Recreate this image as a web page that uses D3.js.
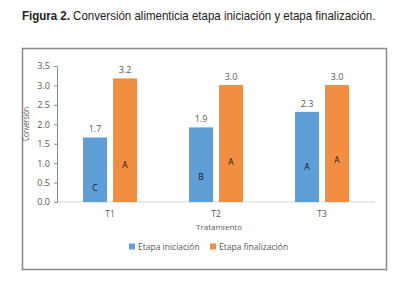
<!DOCTYPE html>
<html>
<head>
<meta charset="utf-8">
<script src="https://cdn.jsdelivr.net/npm/d3@7"></script>
<style>
  body { margin: 0; background: #fff; }
  text { font-family: "Open Sans", "DejaVu Sans", sans-serif; }
  .title { font-family: "Liberation Sans Narrow", "Arial Narrow", "Liberation Sans", sans-serif; font-size: 13px; fill: #222; }
</style>
</head>
<body>
<div id="chart"></div>
<script>
// chart data
const categories = ["T1", "T2", "T3"];
const seriesNames = ["Etapa iniciación", "Etapa finalización"];
const iniciacion = [1.66, 1.92, 2.32];
const finalizacion = [3.18, 3.01, 3.01];
const letrasIniciacion = ["C", "B", "A"];
const letrasFinalizacion = ["A", "A", "A"];
// where the letters sit, in conversion units
const letraPosIniciacion = [0.36, 0.64, 0.9];
const letraPosFinalizacion = [0.95, 1.03, 1.08];
const yTicks = [0, 0.5, 1, 1.5, 2, 2.5, 3, 3.5];

const colors = ["#5e9fd7", "#f28e42"];

const width = 409, height = 294;
const margin = {top: 66, right: 34, bottom: 92, left: 57};
const innerW = width - margin.left - margin.right;
const innerH = height - margin.top - margin.bottom;

const svg = d3.select("#chart").append("svg")
    .attr("width", width)
    .attr("height", height);

// title: no narrow font installed, so squeeze it horizontally
const title = svg.append("g")
    .attr("transform", "translate(22,20) scale(0.885,1)")
    .append("text")
    .attr("class", "title");
title.append("tspan").attr("font-weight", "bold").text("Figura 2.");
title.append("tspan").text(" Conversión alimenticia etapa iniciación y etapa finalización.");

// outer frame
svg.append("rect")
    .attr("x", 22.5).attr("y", 48.5)
    .attr("width", 364).attr("height", 221)
    .attr("fill", "none")
    .attr("stroke", "#8a8a8a")
    .attr("stroke-width", 1.5);

const chart = svg.append("g")
    .attr("transform", `translate(${margin.left},${margin.top})`);

const x = d3.scaleBand()
    .domain(categories)
    .range([0, innerW]);

const y = d3.scaleLinear()
    .domain([0, 3.5])
    .range([innerH, 0]);

// x axis line
chart.append("line")
    .attr("x1", 0).attr("x2", innerW)
    .attr("y1", y(0)).attr("y2", y(0))
    .attr("stroke", "#d9d9d9");

// y axis
const yAxis = d3.axisLeft(y)
    .tickValues(yTicks)
    .tickFormat(d3.format(".1f"))
    .tickSize(3)
    .tickPadding(4);

const yAxisG = chart.append("g").call(yAxis);
yAxisG.select(".domain").attr("stroke", "#8c8c8c");
yAxisG.selectAll(".tick line").attr("stroke", "#8c8c8c");
yAxisG.selectAll(".tick text")
    .attr("fill", "#595959")
    .attr("font-size", 9)
    .style("font-family", "'Open Sans', sans-serif");

// x category labels
chart.selectAll(".cat")
    .data(categories)
    .join("text")
    .attr("class", "cat")
    .attr("x", d => x(d) + x.bandwidth() / 2)
    .attr("y", innerH + 15)
    .attr("text-anchor", "middle")
    .attr("fill", "#595959")
    .attr("font-size", 8.5)
    .text(d => d);

// axis titles
chart.append("text")
    .attr("x", innerW / 2 + 3)
    .attr("y", innerH + 28)
    .attr("text-anchor", "middle")
    .attr("fill", "#595959")
    .attr("font-size", 8)
    .text("Tratamiento");

chart.append("text")
    .attr("transform", `translate(${-28},${innerH / 2 - 10}) rotate(-90)`)
    .attr("text-anchor", "middle")
    .attr("fill", "#595959")
    .attr("font-size", 8.5)
    .attr("textLength", 34)
    .attr("lengthAdjust", "spacingAndGlyphs")
    .text("Conversión");

// bars
const barW = 24, gap = 6;
const series = [
    {values: iniciacion, letters: letrasIniciacion, letterPos: letraPosIniciacion, offset: -gap / 2 - barW},
    {values: finalizacion, letters: letrasFinalizacion, letterPos: letraPosFinalizacion, offset: gap / 2}
];

series.forEach((s, i) => {
    const rows = categories.map((c, j) => ({cat: c, v: s.values[j], letter: s.letters[j], lp: s.letterPos[j]}));
    const cx = d => x(d.cat) + x.bandwidth() / 2 + s.offset;

    chart.selectAll(".bar-" + i)
        .data(rows)
        .join("rect")
        .attr("class", "bar-" + i)
        .attr("x", cx)
        .attr("y", d => y(d.v))
        .attr("width", barW)
        .attr("height", d => y(0) - y(d.v))
        .attr("fill", colors[i]);

    chart.selectAll(".val-" + i)
        .data(rows)
        .join("text")
        .attr("class", "val-" + i)
        .attr("x", d => cx(d) + barW / 2)
        .attr("y", d => y(d.v) - 5)
        .attr("text-anchor", "middle")
        .attr("fill", "#595959")
        .attr("font-size", 9)
        .text(d => d3.format(".1f")(d.v));

    chart.selectAll(".let-" + i)
        .data(rows)
        .join("text")
        .attr("class", "let-" + i)
        .attr("x", d => cx(d) + barW / 2)
        .attr("y", d => y(d.lp) + 3)
        .attr("text-anchor", "middle")
        .attr("fill", "#1a1a1a")
        .attr("font-size", 8.5)
        .text(d => d.letter);
});

// legend
const legend = svg.append("g").attr("transform", "translate(129,247)");
const legendX = [0, 81];
seriesNames.forEach((name, i) => {
    const g = legend.append("g").attr("transform", `translate(${legendX[i]},0)`);
    g.append("rect")
        .attr("x", 0).attr("y", -3.5)
        .attr("width", 6).attr("height", 6)
        .attr("fill", colors[i]);
    g.append("text")
        .attr("x", 9)
        .attr("y", 3)
        .attr("fill", "#595959")
        .attr("font-size", 8.5)
        .text(name);
});
</script>
</body>
</html>
